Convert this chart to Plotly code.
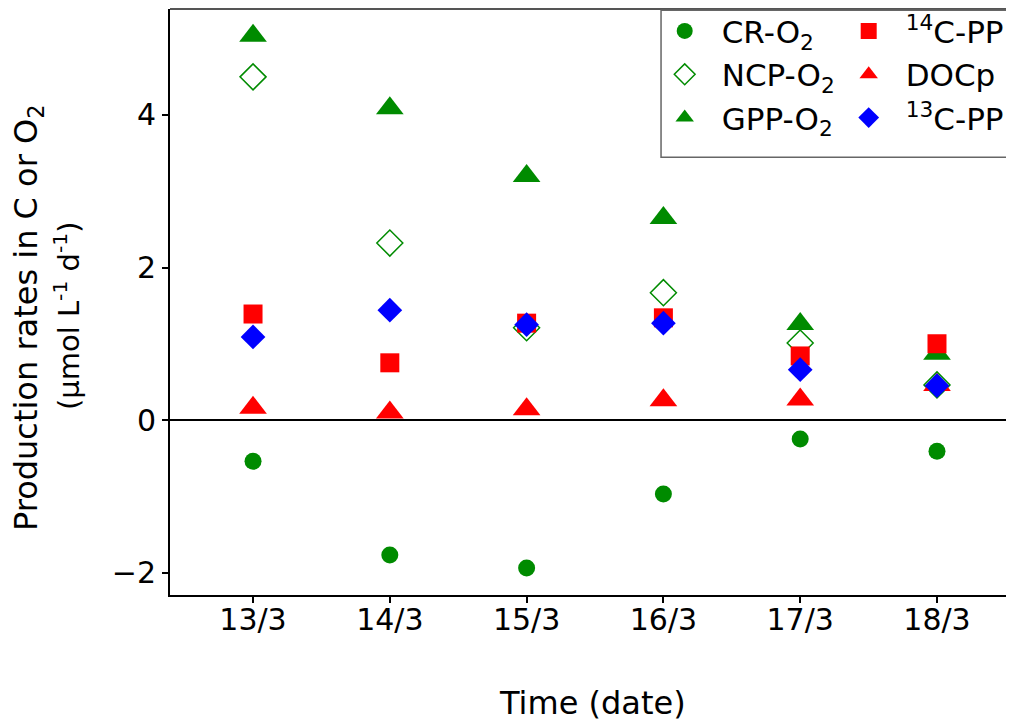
import plotly.graph_objects as go

dates = ["13/3", "14/3", "15/3", "16/3", "17/3", "18/3"]
x_pos = [0, 1, 2, 3, 4, 5]

cr_o2 = [-0.54, -1.77, -1.94, -0.97, -0.25, -0.41]
ncp_o2 = [4.50, 2.32, 1.21, 1.67, 1.01, 0.46]
gpp_o2 = [5.04, 4.09, 3.20, 2.65, 1.26, 0.87]
c14_pp = [1.39, 0.75, 1.27, 1.34, 0.84, 1.00]
docp = [0.16, 0.10, 0.14, 0.26, 0.27, 0.46]
c13_pp = [1.09, 1.44, 1.25, 1.27, 0.66, 0.45]

GREEN = "#008B00"
RED = "#FF0000"
BLUE = "#0000FF"
FONT = "DejaVu Sans"

fig = go.Figure()

def add(name, y, symbol, color, size, legend, line_width=0):
    fig.add_trace(go.Scatter(
        x=x_pos, y=y, mode="markers", name=name, legend=legend,
        marker=dict(symbol=symbol, color=color, size=size,
                    line=dict(color=color, width=line_width)),
    ))

add("CR-O<sub>2</sub>", cr_o2, "circle", GREEN, 17, "legend")
add("NCP-O<sub>2</sub>", ncp_o2, "diamond-open", GREEN, 20, "legend", 1.5)
add("GPP-O<sub>2</sub>", gpp_o2, "triangle-up", GREEN, 24, "legend")
add("<sup>14</sup>C-PP", c14_pp, "square", RED, 19, "legend2")
add("DOCp", docp, "triangle-up", RED, 24, "legend2")
add("<sup>13</sup>C-PP", c13_pp, "diamond", BLUE, 19, "legend2")

leg_common = dict(yanchor="top", xanchor="left", bgcolor="rgba(0,0,0,0)",
                  borderwidth=0, font=dict(size=31, family=FONT, color="black"),
                  itemsizing="trace", itemwidth=64, tracegroupgap=0)

fig.update_layout(
    width=1006, height=714,
    margin=dict(l=162, r=0, t=1, b=127, pad=0, autoexpand=False),
    plot_bgcolor="white", paper_bgcolor="white",
    font=dict(family=FONT, size=29, color="black"),
    legend=dict(x=0.566, y=1.008, **leg_common),
    legend2=dict(x=0.784, y=1.008, **leg_common),
    xaxis=dict(
        range=[-0.607, 5.563], tickmode="array", tickvals=x_pos, ticktext=dates,
        showline=True, linecolor="black", linewidth=2,
        ticks="outside", ticklen=6, tickwidth=1.5, tickcolor="black",
        showgrid=False, zeroline=False, tickfont=dict(size=30),
        ticklabelstandoff=-9, automargin=False,
    ),
    yaxis=dict(
        range=[-2.295, 5.39], tickvals=[-2, 0, 2, 4],
        ticktext=["\u22122", "0", "2", "4"],
        showline=True, linecolor="black", linewidth=2,
        ticks="outside", ticklen=6, tickwidth=1.5, tickcolor="black",
        showgrid=False, zeroline=True, zerolinecolor="black", zerolinewidth=2,
        tickfont=dict(size=30), automargin=False,
    ),
    annotations=[
        dict(text="Production rates in C or O<sub>2</sub>", textangle=-90,
             xref="paper", yref="paper", x=-0.168, y=0.473,
             xanchor="center", yanchor="middle", showarrow=False,
             font=dict(size=32)),
        dict(text="(µmol L<sup>-1</sup> d<sup>-1</sup>)", textangle=-90,
             xref="paper", yref="paper", x=-0.122, y=0.476,
             xanchor="center", yanchor="middle", showarrow=False,
             font=dict(size=29)),
        dict(text="Time (date)", xref="paper", yref="paper", x=0.5, y=-0.184,
             xanchor="center", yanchor="middle", showarrow=False,
             font=dict(size=32)),
    ],
    shapes=[
        dict(type="line", xref="paper", yref="paper", x0=0, x1=1, y0=1, y1=1,
             line=dict(color="#555555", width=2)),
        dict(type="rect", xref="paper", yref="paper", x0=0.5818, x1=1.02, y0=0.747, y1=0.998,
             line=dict(color="#666666", width=1.5), fillcolor="rgba(0,0,0,0)", layer="above"),
    ],
)

fig.write_html("out.html")
